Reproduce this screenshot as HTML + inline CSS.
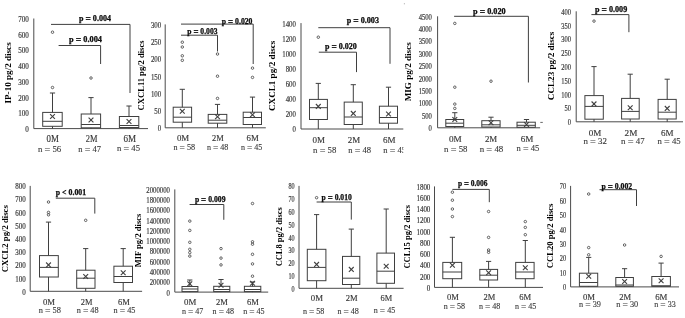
<!DOCTYPE html>
<html><head><meta charset="utf-8"><title>Box plots</title>
<style>
html,body{margin:0;padding:0;background:#fff;}
body{width:685px;height:318px;overflow:hidden;}
svg{display:block;font-family:"Liberation Serif","Times New Roman",serif;}
</style></head><body>
<svg width="685" height="318" viewBox="0 0 685 318" shape-rendering="auto">
<rect width="685" height="318" fill="#fff"/>
<g id="p1">
<line x1="33.8" y1="18.5" x2="33.8" y2="128.6" stroke="#4a4a4a" stroke-width="1.0"/>
<line x1="33.8" y1="128.6" x2="148" y2="128.6" stroke="#4a4a4a" stroke-width="1.0"/>
<text x="28.85" y="132" font-size="7.5" fill="#3a3a3a" text-anchor="end" textLength="3.55" lengthAdjust="spacingAndGlyphs" stroke="#3a3a3a" stroke-width="0.18">0</text>
<text x="28.85" y="116.27" font-size="7.5" fill="#3a3a3a" text-anchor="end" textLength="10.65" lengthAdjust="spacingAndGlyphs" stroke="#3a3a3a" stroke-width="0.18">100</text>
<text x="28.85" y="100.54" font-size="7.5" fill="#3a3a3a" text-anchor="end" textLength="10.65" lengthAdjust="spacingAndGlyphs" stroke="#3a3a3a" stroke-width="0.18">200</text>
<text x="28.85" y="84.81" font-size="7.5" fill="#3a3a3a" text-anchor="end" textLength="10.65" lengthAdjust="spacingAndGlyphs" stroke="#3a3a3a" stroke-width="0.18">300</text>
<text x="28.85" y="69.09" font-size="7.5" fill="#3a3a3a" text-anchor="end" textLength="10.65" lengthAdjust="spacingAndGlyphs" stroke="#3a3a3a" stroke-width="0.18">400</text>
<text x="28.85" y="53.36" font-size="7.5" fill="#3a3a3a" text-anchor="end" textLength="10.65" lengthAdjust="spacingAndGlyphs" stroke="#3a3a3a" stroke-width="0.18">500</text>
<text x="28.85" y="37.63" font-size="7.5" fill="#3a3a3a" text-anchor="end" textLength="10.65" lengthAdjust="spacingAndGlyphs" stroke="#3a3a3a" stroke-width="0.18">600</text>
<text x="28.85" y="21.9" font-size="7.5" fill="#3a3a3a" text-anchor="end" textLength="10.65" lengthAdjust="spacingAndGlyphs" stroke="#3a3a3a" stroke-width="0.18">700</text>
<line x1="52.5" y1="93" x2="52.5" y2="112.4" stroke="#3f3f3f" stroke-width="1.0"/>
<line x1="49.9" y1="93" x2="55.1" y2="93" stroke="#3f3f3f" stroke-width="1.0"/>
<line x1="52.5" y1="126.3" x2="52.5" y2="128.6" stroke="#3f3f3f" stroke-width="1.0"/>
<rect x="42.7" y="112.4" width="19.5" height="13.9" fill="none" stroke="#3f3f3f" stroke-width="1"/>
<line x1="42.7" y1="121.3" x2="62.2" y2="121.3" stroke="#3f3f3f" stroke-width="1.0"/>
<line x1="50.1" y1="114.1" x2="54.9" y2="118.9" stroke="#3f3f3f" stroke-width="1.1"/>
<line x1="50.1" y1="118.9" x2="54.9" y2="114.1" stroke="#3f3f3f" stroke-width="1.1"/>
<circle cx="52.5" cy="87.5" r="1.25" fill="none" stroke="#3f3f3f" stroke-width="0.8"/>
<circle cx="52.5" cy="32.2" r="1.25" fill="none" stroke="#3f3f3f" stroke-width="0.8"/>
<line x1="91" y1="97.6" x2="91" y2="114" stroke="#3f3f3f" stroke-width="1.0"/>
<line x1="88.4" y1="97.6" x2="93.6" y2="97.6" stroke="#3f3f3f" stroke-width="1.0"/>
<line x1="91" y1="127.8" x2="91" y2="128.6" stroke="#3f3f3f" stroke-width="1.0"/>
<rect x="81.2" y="114" width="19.4" height="13.8" fill="none" stroke="#3f3f3f" stroke-width="1"/>
<line x1="81.2" y1="124.5" x2="100.6" y2="124.5" stroke="#3f3f3f" stroke-width="1.0"/>
<line x1="88.6" y1="117.6" x2="93.4" y2="122.4" stroke="#3f3f3f" stroke-width="1.1"/>
<line x1="88.6" y1="122.4" x2="93.4" y2="117.6" stroke="#3f3f3f" stroke-width="1.1"/>
<circle cx="91" cy="78" r="1.25" fill="none" stroke="#3f3f3f" stroke-width="0.8"/>
<line x1="129" y1="106" x2="129" y2="116.5" stroke="#3f3f3f" stroke-width="1.0"/>
<line x1="126.4" y1="106" x2="131.6" y2="106" stroke="#3f3f3f" stroke-width="1.0"/>
<line x1="129" y1="127.5" x2="129" y2="128.6" stroke="#3f3f3f" stroke-width="1.0"/>
<rect x="119.4" y="116.5" width="19.4" height="11" fill="none" stroke="#3f3f3f" stroke-width="1"/>
<line x1="119.4" y1="125.5" x2="138.8" y2="125.5" stroke="#3f3f3f" stroke-width="1.0"/>
<line x1="126.6" y1="119.1" x2="131.4" y2="123.9" stroke="#3f3f3f" stroke-width="1.1"/>
<line x1="126.6" y1="123.9" x2="131.4" y2="119.1" stroke="#3f3f3f" stroke-width="1.1"/>
<text x="46.6" y="142.4" font-size="9.5" fill="#383838" textLength="12.3" lengthAdjust="spacingAndGlyphs" stroke="#383838" stroke-width="0.15">0M</text>
<text x="85.7" y="142.4" font-size="9.5" fill="#383838" textLength="11.7" lengthAdjust="spacingAndGlyphs" stroke="#383838" stroke-width="0.15">2M</text>
<text x="123.4" y="142" font-size="9.5" fill="#383838" textLength="12.6" lengthAdjust="spacingAndGlyphs" stroke="#383838" stroke-width="0.15">6M</text>
<text x="37.9" y="152" font-size="9" fill="#383838" textLength="23.3" lengthAdjust="spacingAndGlyphs" stroke="#383838" stroke-width="0.12">n <tspan font-size="10.5" baseline-shift="-0.9">=</tspan> 56</text>
<text x="78.2" y="152.2" font-size="9" fill="#383838" textLength="22.8" lengthAdjust="spacingAndGlyphs" stroke="#383838" stroke-width="0.12">n <tspan font-size="10.5" baseline-shift="-0.9">=</tspan> 47</text>
<text x="117.1" y="151.1" font-size="9" fill="#383838" textLength="22.9" lengthAdjust="spacingAndGlyphs" stroke="#383838" stroke-width="0.12">n <tspan font-size="10.5" baseline-shift="-0.9">=</tspan> 45</text>
<line x1="51" y1="24.4" x2="130" y2="24.4" stroke="#3f3f3f" stroke-width="1.0"/>
<line x1="130" y1="24.4" x2="130" y2="93" stroke="#3f3f3f" stroke-width="1.0"/>
<text x="79" y="21" font-size="8.2" fill="#111" font-weight="bold" textLength="32" lengthAdjust="spacingAndGlyphs" stroke="#000" stroke-width="0.25">p <tspan font-size="9.5" baseline-shift="-0.5">=</tspan> 0.004</text>
<line x1="58.6" y1="45.5" x2="100.6" y2="45.5" stroke="#3f3f3f" stroke-width="1.0"/>
<line x1="100.6" y1="45.5" x2="100.6" y2="64" stroke="#3f3f3f" stroke-width="1.0"/>
<text x="69" y="42" font-size="8.2" fill="#111" font-weight="bold" textLength="33" lengthAdjust="spacingAndGlyphs" stroke="#000" stroke-width="0.25">p <tspan font-size="9.5" baseline-shift="-0.5">=</tspan> 0.004</text>
<text transform="translate(11.1,72.9) rotate(-90)" x="0" y="0" font-size="9" font-weight="bold" fill="#000" text-anchor="middle" textLength="61.2" lengthAdjust="spacingAndGlyphs">IP-10 pg/2 discs</text>
</g>
<g id="p2">
<line x1="165.2" y1="24.4" x2="165.2" y2="127.8" stroke="#4a4a4a" stroke-width="1.0"/>
<line x1="165.2" y1="127.8" x2="265.8" y2="127.8" stroke="#4a4a4a" stroke-width="1.0"/>
<text x="161.15" y="131.2" font-size="7.5" fill="#3a3a3a" text-anchor="end" textLength="3.42" lengthAdjust="spacingAndGlyphs" stroke="#3a3a3a" stroke-width="0.18">0</text>
<text x="161.15" y="113.97" font-size="7.5" fill="#3a3a3a" text-anchor="end" textLength="6.84" lengthAdjust="spacingAndGlyphs" stroke="#3a3a3a" stroke-width="0.18">50</text>
<text x="161.15" y="96.73" font-size="7.5" fill="#3a3a3a" text-anchor="end" textLength="10.26" lengthAdjust="spacingAndGlyphs" stroke="#3a3a3a" stroke-width="0.18">100</text>
<text x="161.15" y="79.5" font-size="7.5" fill="#3a3a3a" text-anchor="end" textLength="10.26" lengthAdjust="spacingAndGlyphs" stroke="#3a3a3a" stroke-width="0.18">150</text>
<text x="161.15" y="62.27" font-size="7.5" fill="#3a3a3a" text-anchor="end" textLength="10.26" lengthAdjust="spacingAndGlyphs" stroke="#3a3a3a" stroke-width="0.18">200</text>
<text x="161.15" y="45.03" font-size="7.5" fill="#3a3a3a" text-anchor="end" textLength="10.26" lengthAdjust="spacingAndGlyphs" stroke="#3a3a3a" stroke-width="0.18">250</text>
<text x="161.15" y="27.8" font-size="7.5" fill="#3a3a3a" text-anchor="end" textLength="10.26" lengthAdjust="spacingAndGlyphs" stroke="#3a3a3a" stroke-width="0.18">300</text>
<line x1="182.3" y1="89.3" x2="182.3" y2="107.2" stroke="#3f3f3f" stroke-width="1.0"/>
<line x1="179.7" y1="89.3" x2="184.9" y2="89.3" stroke="#3f3f3f" stroke-width="1.0"/>
<line x1="182.3" y1="122.2" x2="182.3" y2="127.8" stroke="#3f3f3f" stroke-width="1.0"/>
<rect x="173.2" y="107.2" width="18.4" height="15" fill="none" stroke="#3f3f3f" stroke-width="1"/>
<line x1="173.2" y1="117.2" x2="191.6" y2="117.2" stroke="#3f3f3f" stroke-width="1.0"/>
<line x1="179.9" y1="108.8" x2="184.7" y2="113.6" stroke="#3f3f3f" stroke-width="1.1"/>
<line x1="179.9" y1="113.6" x2="184.7" y2="108.8" stroke="#3f3f3f" stroke-width="1.1"/>
<circle cx="182.3" cy="42.2" r="1.25" fill="none" stroke="#3f3f3f" stroke-width="0.8"/>
<circle cx="182.3" cy="47" r="1.25" fill="none" stroke="#3f3f3f" stroke-width="0.8"/>
<circle cx="182.3" cy="55.8" r="1.25" fill="none" stroke="#3f3f3f" stroke-width="0.8"/>
<circle cx="182.3" cy="60.3" r="1.25" fill="none" stroke="#3f3f3f" stroke-width="0.8"/>
<line x1="217.5" y1="104.4" x2="217.5" y2="114.4" stroke="#3f3f3f" stroke-width="1.0"/>
<line x1="214.9" y1="104.4" x2="220.1" y2="104.4" stroke="#3f3f3f" stroke-width="1.0"/>
<line x1="217.5" y1="123.2" x2="217.5" y2="127.8" stroke="#3f3f3f" stroke-width="1.0"/>
<rect x="208.2" y="114.4" width="18.6" height="8.8" fill="none" stroke="#3f3f3f" stroke-width="1"/>
<line x1="208.2" y1="120.2" x2="226.8" y2="120.2" stroke="#3f3f3f" stroke-width="1.0"/>
<line x1="215.1" y1="114.3" x2="219.9" y2="119.1" stroke="#3f3f3f" stroke-width="1.1"/>
<line x1="215.1" y1="119.1" x2="219.9" y2="114.3" stroke="#3f3f3f" stroke-width="1.1"/>
<circle cx="217.5" cy="54" r="1.25" fill="none" stroke="#3f3f3f" stroke-width="0.8"/>
<circle cx="217.5" cy="76.2" r="1.25" fill="none" stroke="#3f3f3f" stroke-width="0.8"/>
<circle cx="217.5" cy="98.4" r="1.25" fill="none" stroke="#3f3f3f" stroke-width="0.8"/>
<line x1="252.5" y1="97.1" x2="252.5" y2="112.2" stroke="#3f3f3f" stroke-width="1.0"/>
<line x1="249.9" y1="97.1" x2="255.1" y2="97.1" stroke="#3f3f3f" stroke-width="1.0"/>
<line x1="252.5" y1="124.5" x2="252.5" y2="127.8" stroke="#3f3f3f" stroke-width="1.0"/>
<rect x="243.2" y="112.2" width="18.3" height="12.3" fill="none" stroke="#3f3f3f" stroke-width="1"/>
<line x1="243.2" y1="117.5" x2="261.5" y2="117.5" stroke="#3f3f3f" stroke-width="1.0"/>
<line x1="250.1" y1="112.3" x2="254.9" y2="117.1" stroke="#3f3f3f" stroke-width="1.1"/>
<line x1="250.1" y1="117.1" x2="254.9" y2="112.3" stroke="#3f3f3f" stroke-width="1.1"/>
<circle cx="252.5" cy="68.1" r="1.25" fill="none" stroke="#3f3f3f" stroke-width="0.8"/>
<circle cx="252.5" cy="77.4" r="1.25" fill="none" stroke="#3f3f3f" stroke-width="0.8"/>
<text x="176.9" y="140.6" font-size="9.2" fill="#383838" textLength="12.3" lengthAdjust="spacingAndGlyphs" stroke="#383838" stroke-width="0.15">0M</text>
<text x="212" y="140.6" font-size="9.2" fill="#383838" textLength="11.7" lengthAdjust="spacingAndGlyphs" stroke="#383838" stroke-width="0.15">2M</text>
<text x="246.5" y="140.6" font-size="9.2" fill="#383838" textLength="12.2" lengthAdjust="spacingAndGlyphs" stroke="#383838" stroke-width="0.15">6M</text>
<text x="173.4" y="149.9" font-size="9" fill="#383838" textLength="21.7" lengthAdjust="spacingAndGlyphs" stroke="#383838" stroke-width="0.12">n <tspan font-size="10.5" baseline-shift="-0.9">=</tspan> 58</text>
<text x="207" y="149.9" font-size="9" fill="#383838" textLength="21.4" lengthAdjust="spacingAndGlyphs" stroke="#383838" stroke-width="0.12">n <tspan font-size="10.5" baseline-shift="-0.9">=</tspan> 48</text>
<text x="240.9" y="149.9" font-size="9" fill="#383838" textLength="21.3" lengthAdjust="spacingAndGlyphs" stroke="#383838" stroke-width="0.12">n <tspan font-size="10.5" baseline-shift="-0.9">=</tspan> 45</text>
<line x1="181" y1="24.1" x2="253.2" y2="24.1" stroke="#3f3f3f" stroke-width="1.0"/>
<line x1="253.2" y1="24.1" x2="253.2" y2="64" stroke="#3f3f3f" stroke-width="1.0"/>
<text x="221.8" y="23.7" font-size="8.2" fill="#111" font-weight="bold" textLength="30.7" lengthAdjust="spacingAndGlyphs" stroke="#000" stroke-width="0.25">p <tspan font-size="9.5" baseline-shift="-0.5">=</tspan> 0.020</text>
<line x1="181" y1="35.2" x2="217.5" y2="35.2" stroke="#3f3f3f" stroke-width="1.0"/>
<line x1="217.5" y1="35.2" x2="217.5" y2="51.5" stroke="#3f3f3f" stroke-width="1.0"/>
<text x="187.3" y="33.5" font-size="8.2" fill="#111" font-weight="bold" textLength="30.2" lengthAdjust="spacingAndGlyphs" stroke="#000" stroke-width="0.25">p <tspan font-size="9.5" baseline-shift="-0.5">=</tspan> 0.003</text>
<text transform="translate(144.2,75.4) rotate(-90)" x="0" y="0" font-size="9" font-weight="bold" fill="#000" text-anchor="middle" textLength="70" lengthAdjust="spacingAndGlyphs">CXCL11 pg/2 discs</text>
</g>
<g id="p3">
<line x1="301" y1="23.1" x2="301" y2="129" stroke="#4a4a4a" stroke-width="1.0"/>
<line x1="301" y1="129" x2="403.3" y2="129" stroke="#4a4a4a" stroke-width="1.0"/>
<text x="295.85" y="132.4" font-size="7.5" fill="#3a3a3a" text-anchor="end" textLength="3.4" lengthAdjust="spacingAndGlyphs" stroke="#3a3a3a" stroke-width="0.18">0</text>
<text x="295.85" y="117.27" font-size="7.5" fill="#3a3a3a" text-anchor="end" textLength="10.2" lengthAdjust="spacingAndGlyphs" stroke="#3a3a3a" stroke-width="0.18">200</text>
<text x="295.85" y="102.14" font-size="7.5" fill="#3a3a3a" text-anchor="end" textLength="10.2" lengthAdjust="spacingAndGlyphs" stroke="#3a3a3a" stroke-width="0.18">400</text>
<text x="295.85" y="87.01" font-size="7.5" fill="#3a3a3a" text-anchor="end" textLength="10.2" lengthAdjust="spacingAndGlyphs" stroke="#3a3a3a" stroke-width="0.18">600</text>
<text x="295.85" y="71.89" font-size="7.5" fill="#3a3a3a" text-anchor="end" textLength="10.2" lengthAdjust="spacingAndGlyphs" stroke="#3a3a3a" stroke-width="0.18">800</text>
<text x="295.85" y="56.76" font-size="7.5" fill="#3a3a3a" text-anchor="end" textLength="13.6" lengthAdjust="spacingAndGlyphs" stroke="#3a3a3a" stroke-width="0.18">1000</text>
<text x="295.85" y="41.63" font-size="7.5" fill="#3a3a3a" text-anchor="end" textLength="13.6" lengthAdjust="spacingAndGlyphs" stroke="#3a3a3a" stroke-width="0.18">1200</text>
<text x="295.85" y="26.5" font-size="7.5" fill="#3a3a3a" text-anchor="end" textLength="13.6" lengthAdjust="spacingAndGlyphs" stroke="#3a3a3a" stroke-width="0.18">1400</text>
<line x1="318.3" y1="83.4" x2="318.3" y2="99.4" stroke="#3f3f3f" stroke-width="1.0"/>
<line x1="315.7" y1="83.4" x2="320.9" y2="83.4" stroke="#3f3f3f" stroke-width="1.0"/>
<line x1="318.3" y1="119.5" x2="318.3" y2="129" stroke="#3f3f3f" stroke-width="1.0"/>
<rect x="309.5" y="99.4" width="17.9" height="20.1" fill="none" stroke="#3f3f3f" stroke-width="1"/>
<line x1="309.5" y1="107.7" x2="327.4" y2="107.7" stroke="#3f3f3f" stroke-width="1.0"/>
<line x1="315.9" y1="104" x2="320.7" y2="108.8" stroke="#3f3f3f" stroke-width="1.1"/>
<line x1="315.9" y1="108.8" x2="320.7" y2="104" stroke="#3f3f3f" stroke-width="1.1"/>
<circle cx="318.3" cy="37.2" r="1.25" fill="none" stroke="#3f3f3f" stroke-width="0.8"/>
<line x1="353.3" y1="84.7" x2="353.3" y2="102.1" stroke="#3f3f3f" stroke-width="1.0"/>
<line x1="350.7" y1="84.7" x2="355.9" y2="84.7" stroke="#3f3f3f" stroke-width="1.0"/>
<line x1="353.3" y1="124.5" x2="353.3" y2="129" stroke="#3f3f3f" stroke-width="1.0"/>
<rect x="344.2" y="102.1" width="18.1" height="22.4" fill="none" stroke="#3f3f3f" stroke-width="1"/>
<line x1="344.2" y1="117" x2="362.3" y2="117" stroke="#3f3f3f" stroke-width="1.0"/>
<line x1="350.9" y1="111" x2="355.7" y2="115.8" stroke="#3f3f3f" stroke-width="1.1"/>
<line x1="350.9" y1="115.8" x2="355.7" y2="111" stroke="#3f3f3f" stroke-width="1.1"/>
<line x1="388.5" y1="87.2" x2="388.5" y2="106.2" stroke="#3f3f3f" stroke-width="1.0"/>
<line x1="385.9" y1="87.2" x2="391.1" y2="87.2" stroke="#3f3f3f" stroke-width="1.0"/>
<line x1="388.5" y1="123.2" x2="388.5" y2="129" stroke="#3f3f3f" stroke-width="1.0"/>
<rect x="379.4" y="106.2" width="18.1" height="17" fill="none" stroke="#3f3f3f" stroke-width="1"/>
<line x1="379.4" y1="117.5" x2="397.5" y2="117.5" stroke="#3f3f3f" stroke-width="1.0"/>
<line x1="386.1" y1="111.6" x2="390.9" y2="116.4" stroke="#3f3f3f" stroke-width="1.1"/>
<line x1="386.1" y1="116.4" x2="390.9" y2="111.6" stroke="#3f3f3f" stroke-width="1.1"/>
<text x="312.6" y="142.9" font-size="9.2" fill="#383838" textLength="12.5" lengthAdjust="spacingAndGlyphs" stroke="#383838" stroke-width="0.15">0M</text>
<text x="347.7" y="142.9" font-size="9.2" fill="#383838" textLength="12.4" lengthAdjust="spacingAndGlyphs" stroke="#383838" stroke-width="0.15">2M</text>
<text x="382.9" y="142.9" font-size="9.2" fill="#383838" textLength="12.6" lengthAdjust="spacingAndGlyphs" stroke="#383838" stroke-width="0.15">6M</text>
<text x="313.1" y="152.9" font-size="9" fill="#383838" textLength="23.2" lengthAdjust="spacingAndGlyphs" stroke="#383838" stroke-width="0.12">n <tspan font-size="10.5" baseline-shift="-0.9">=</tspan> 58</text>
<text x="348.2" y="152.9" font-size="9" fill="#383838" textLength="22.8" lengthAdjust="spacingAndGlyphs" stroke="#383838" stroke-width="0.12">n <tspan font-size="10.5" baseline-shift="-0.9">=</tspan> 48</text>
<text x="383.2" y="152.9" font-size="9" fill="#383838" textLength="22.8" lengthAdjust="spacingAndGlyphs" stroke="#383838" stroke-width="0.12">n <tspan font-size="10.5" baseline-shift="-0.9">=</tspan> 45</text>
<line x1="318.3" y1="27.7" x2="390" y2="27.7" stroke="#3f3f3f" stroke-width="1.0"/>
<line x1="390" y1="27.7" x2="390" y2="63.8" stroke="#3f3f3f" stroke-width="1.0"/>
<text x="346.7" y="22.6" font-size="8.2" fill="#111" font-weight="bold" textLength="32.3" lengthAdjust="spacingAndGlyphs" stroke="#000" stroke-width="0.25">p <tspan font-size="9.5" baseline-shift="-0.5">=</tspan> 0.003</text>
<line x1="318.8" y1="52.2" x2="356.5" y2="52.2" stroke="#3f3f3f" stroke-width="1.0"/>
<line x1="356.5" y1="52.2" x2="356.5" y2="72.1" stroke="#3f3f3f" stroke-width="1.0"/>
<text x="325" y="49" font-size="8.2" fill="#111" font-weight="bold" textLength="31.8" lengthAdjust="spacingAndGlyphs" stroke="#000" stroke-width="0.25">p <tspan font-size="9.5" baseline-shift="-0.5">=</tspan> 0.020</text>
<text transform="translate(275.2,75.85) rotate(-90)" x="0" y="0" font-size="9" font-weight="bold" fill="#000" text-anchor="middle" textLength="70.3" lengthAdjust="spacingAndGlyphs">CXCL1 pg/2 discs</text>
</g>
<rect x="403.3" y="144" width="6" height="12" fill="#fff"/>
<g id="p4">
<line x1="437.6" y1="16.3" x2="437.6" y2="127.8" stroke="#4a4a4a" stroke-width="1.0"/>
<line x1="437.6" y1="127.8" x2="540.1" y2="127.8" stroke="#4a4a4a" stroke-width="1.0"/>
<text x="431.95" y="131.2" font-size="7.5" fill="#3a3a3a" text-anchor="end" textLength="3.33" lengthAdjust="spacingAndGlyphs" stroke="#3a3a3a" stroke-width="0.18">0</text>
<text x="431.95" y="118.81" font-size="7.5" fill="#3a3a3a" text-anchor="end" textLength="9.99" lengthAdjust="spacingAndGlyphs" stroke="#3a3a3a" stroke-width="0.18">500</text>
<text x="431.95" y="106.42" font-size="7.5" fill="#3a3a3a" text-anchor="end" textLength="13.32" lengthAdjust="spacingAndGlyphs" stroke="#3a3a3a" stroke-width="0.18">1000</text>
<text x="431.95" y="94.03" font-size="7.5" fill="#3a3a3a" text-anchor="end" textLength="13.32" lengthAdjust="spacingAndGlyphs" stroke="#3a3a3a" stroke-width="0.18">1500</text>
<text x="431.95" y="81.64" font-size="7.5" fill="#3a3a3a" text-anchor="end" textLength="13.32" lengthAdjust="spacingAndGlyphs" stroke="#3a3a3a" stroke-width="0.18">2000</text>
<text x="431.95" y="69.26" font-size="7.5" fill="#3a3a3a" text-anchor="end" textLength="13.32" lengthAdjust="spacingAndGlyphs" stroke="#3a3a3a" stroke-width="0.18">2500</text>
<text x="431.95" y="56.87" font-size="7.5" fill="#3a3a3a" text-anchor="end" textLength="13.32" lengthAdjust="spacingAndGlyphs" stroke="#3a3a3a" stroke-width="0.18">3000</text>
<text x="431.95" y="44.48" font-size="7.5" fill="#3a3a3a" text-anchor="end" textLength="13.32" lengthAdjust="spacingAndGlyphs" stroke="#3a3a3a" stroke-width="0.18">3500</text>
<text x="431.95" y="32.09" font-size="7.5" fill="#3a3a3a" text-anchor="end" textLength="13.32" lengthAdjust="spacingAndGlyphs" stroke="#3a3a3a" stroke-width="0.18">4000</text>
<text x="431.95" y="19.7" font-size="7.5" fill="#3a3a3a" text-anchor="end" textLength="13.32" lengthAdjust="spacingAndGlyphs" stroke="#3a3a3a" stroke-width="0.18">4500</text>
<line x1="454.8" y1="112.7" x2="454.8" y2="119.5" stroke="#3f3f3f" stroke-width="1.0"/>
<line x1="452.2" y1="112.7" x2="457.4" y2="112.7" stroke="#3f3f3f" stroke-width="1.0"/>
<line x1="454.8" y1="126.5" x2="454.8" y2="127.8" stroke="#3f3f3f" stroke-width="1.0"/>
<rect x="445.8" y="119.5" width="17.9" height="7" fill="none" stroke="#3f3f3f" stroke-width="1"/>
<line x1="445.8" y1="123.2" x2="463.7" y2="123.2" stroke="#3f3f3f" stroke-width="1.0"/>
<line x1="452.4" y1="117.1" x2="457.2" y2="121.9" stroke="#3f3f3f" stroke-width="1.1"/>
<line x1="452.4" y1="121.9" x2="457.2" y2="117.1" stroke="#3f3f3f" stroke-width="1.1"/>
<circle cx="454.8" cy="23.4" r="1.25" fill="none" stroke="#3f3f3f" stroke-width="0.8"/>
<circle cx="454.8" cy="87.2" r="1.25" fill="none" stroke="#3f3f3f" stroke-width="0.8"/>
<circle cx="454.8" cy="104.1" r="1.25" fill="none" stroke="#3f3f3f" stroke-width="0.8"/>
<circle cx="454.8" cy="108.4" r="1.25" fill="none" stroke="#3f3f3f" stroke-width="0.8"/>
<line x1="491" y1="117.2" x2="491" y2="120.7" stroke="#3f3f3f" stroke-width="1.0"/>
<line x1="488.4" y1="117.2" x2="493.6" y2="117.2" stroke="#3f3f3f" stroke-width="1.0"/>
<line x1="491" y1="127" x2="491" y2="127.8" stroke="#3f3f3f" stroke-width="1.0"/>
<rect x="481.8" y="120.7" width="18.3" height="6.3" fill="none" stroke="#3f3f3f" stroke-width="1"/>
<line x1="481.8" y1="124.8" x2="500.1" y2="124.8" stroke="#3f3f3f" stroke-width="1.0"/>
<line x1="488.6" y1="120.3" x2="493.4" y2="125.1" stroke="#3f3f3f" stroke-width="1.1"/>
<line x1="488.6" y1="125.1" x2="493.4" y2="120.3" stroke="#3f3f3f" stroke-width="1.1"/>
<circle cx="491" cy="81.2" r="1.25" fill="none" stroke="#3f3f3f" stroke-width="0.8"/>
<line x1="526.5" y1="119.5" x2="526.5" y2="122.2" stroke="#3f3f3f" stroke-width="1.0"/>
<line x1="523.9" y1="119.5" x2="529.1" y2="119.5" stroke="#3f3f3f" stroke-width="1.0"/>
<line x1="526.5" y1="127.3" x2="526.5" y2="127.8" stroke="#3f3f3f" stroke-width="1.0"/>
<rect x="517" y="122.2" width="18.3" height="5.1" fill="none" stroke="#3f3f3f" stroke-width="1"/>
<line x1="517" y1="125.3" x2="535.3" y2="125.3" stroke="#3f3f3f" stroke-width="1.0"/>
<line x1="524.1" y1="122.1" x2="528.9" y2="126.9" stroke="#3f3f3f" stroke-width="1.1"/>
<line x1="524.1" y1="126.9" x2="528.9" y2="122.1" stroke="#3f3f3f" stroke-width="1.1"/>
<text x="449" y="142" font-size="9.2" fill="#383838" textLength="12.8" lengthAdjust="spacingAndGlyphs" stroke="#383838" stroke-width="0.15">0M</text>
<text x="484.9" y="142" font-size="9.2" fill="#383838" textLength="12.3" lengthAdjust="spacingAndGlyphs" stroke="#383838" stroke-width="0.15">2M</text>
<text x="520.8" y="141.7" font-size="9.2" fill="#383838" textLength="12.7" lengthAdjust="spacingAndGlyphs" stroke="#383838" stroke-width="0.15">6M</text>
<text x="444.1" y="152" font-size="9" fill="#383838" textLength="23.3" lengthAdjust="spacingAndGlyphs" stroke="#383838" stroke-width="0.12">n <tspan font-size="10.5" baseline-shift="-0.9">=</tspan> 58</text>
<text x="479.7" y="152" font-size="9" fill="#383838" textLength="23.6" lengthAdjust="spacingAndGlyphs" stroke="#383838" stroke-width="0.12">n <tspan font-size="10.5" baseline-shift="-0.9">=</tspan> 48</text>
<text x="516.5" y="151.1" font-size="9" fill="#383838" textLength="22.7" lengthAdjust="spacingAndGlyphs" stroke="#383838" stroke-width="0.12">n <tspan font-size="10.5" baseline-shift="-0.9">=</tspan> 45</text>
<line x1="454.1" y1="16.3" x2="528.4" y2="16.3" stroke="#3f3f3f" stroke-width="1.0"/>
<line x1="528.4" y1="16.3" x2="528.4" y2="82.5" stroke="#3f3f3f" stroke-width="1.0"/>
<text x="473" y="13.5" font-size="8.2" fill="#111" font-weight="bold" textLength="32.7" lengthAdjust="spacingAndGlyphs" stroke="#000" stroke-width="0.25">p <tspan font-size="9.5" baseline-shift="-0.5">=</tspan> 0.020</text>
<text transform="translate(411.3,71.8) rotate(-90)" x="0" y="0" font-size="9" font-weight="bold" fill="#000" text-anchor="middle" textLength="59" lengthAdjust="spacingAndGlyphs">MIG pg/2 discs</text>
</g>
<g id="p5">
<line x1="576.2" y1="11.3" x2="576.2" y2="121.8" stroke="#4a4a4a" stroke-width="1.0"/>
<line x1="576.2" y1="121.8" x2="683" y2="121.8" stroke="#4a4a4a" stroke-width="1.0"/>
<text x="571.05" y="125.2" font-size="7.5" fill="#3a3a3a" text-anchor="end" textLength="3.25" lengthAdjust="spacingAndGlyphs" stroke="#3a3a3a" stroke-width="0.18">0</text>
<text x="571.05" y="111.39" font-size="7.5" fill="#3a3a3a" text-anchor="end" textLength="6.5" lengthAdjust="spacingAndGlyphs" stroke="#3a3a3a" stroke-width="0.18">50</text>
<text x="571.05" y="97.58" font-size="7.5" fill="#3a3a3a" text-anchor="end" textLength="9.75" lengthAdjust="spacingAndGlyphs" stroke="#3a3a3a" stroke-width="0.18">100</text>
<text x="571.05" y="83.76" font-size="7.5" fill="#3a3a3a" text-anchor="end" textLength="9.75" lengthAdjust="spacingAndGlyphs" stroke="#3a3a3a" stroke-width="0.18">150</text>
<text x="571.05" y="69.95" font-size="7.5" fill="#3a3a3a" text-anchor="end" textLength="9.75" lengthAdjust="spacingAndGlyphs" stroke="#3a3a3a" stroke-width="0.18">200</text>
<text x="571.05" y="56.14" font-size="7.5" fill="#3a3a3a" text-anchor="end" textLength="9.75" lengthAdjust="spacingAndGlyphs" stroke="#3a3a3a" stroke-width="0.18">250</text>
<text x="571.05" y="42.32" font-size="7.5" fill="#3a3a3a" text-anchor="end" textLength="9.75" lengthAdjust="spacingAndGlyphs" stroke="#3a3a3a" stroke-width="0.18">300</text>
<text x="571.05" y="28.51" font-size="7.5" fill="#3a3a3a" text-anchor="end" textLength="9.75" lengthAdjust="spacingAndGlyphs" stroke="#3a3a3a" stroke-width="0.18">350</text>
<text x="571.05" y="14.7" font-size="7.5" fill="#3a3a3a" text-anchor="end" textLength="9.75" lengthAdjust="spacingAndGlyphs" stroke="#3a3a3a" stroke-width="0.18">400</text>
<line x1="594" y1="66.6" x2="594" y2="95.6" stroke="#3f3f3f" stroke-width="1.0"/>
<line x1="591.4" y1="66.6" x2="596.6" y2="66.6" stroke="#3f3f3f" stroke-width="1.0"/>
<line x1="594" y1="119.2" x2="594" y2="121.8" stroke="#3f3f3f" stroke-width="1.0"/>
<rect x="584.9" y="95.6" width="18.4" height="23.6" fill="none" stroke="#3f3f3f" stroke-width="1"/>
<line x1="584.9" y1="106.4" x2="603.3" y2="106.4" stroke="#3f3f3f" stroke-width="1.0"/>
<line x1="591.6" y1="101.5" x2="596.4" y2="106.3" stroke="#3f3f3f" stroke-width="1.1"/>
<line x1="591.6" y1="106.3" x2="596.4" y2="101.5" stroke="#3f3f3f" stroke-width="1.1"/>
<circle cx="594" cy="21.1" r="1.25" fill="none" stroke="#3f3f3f" stroke-width="0.8"/>
<line x1="630.2" y1="74.2" x2="630.2" y2="98.4" stroke="#3f3f3f" stroke-width="1.0"/>
<line x1="627.6" y1="74.2" x2="632.8" y2="74.2" stroke="#3f3f3f" stroke-width="1.0"/>
<line x1="630.2" y1="119" x2="630.2" y2="121.8" stroke="#3f3f3f" stroke-width="1.0"/>
<rect x="621.6" y="98.4" width="17.6" height="20.6" fill="none" stroke="#3f3f3f" stroke-width="1"/>
<line x1="621.6" y1="111.4" x2="639.2" y2="111.4" stroke="#3f3f3f" stroke-width="1.0"/>
<line x1="627.8" y1="105.3" x2="632.6" y2="110.1" stroke="#3f3f3f" stroke-width="1.1"/>
<line x1="627.8" y1="110.1" x2="632.6" y2="105.3" stroke="#3f3f3f" stroke-width="1.1"/>
<line x1="667.2" y1="79.2" x2="667.2" y2="99.4" stroke="#3f3f3f" stroke-width="1.0"/>
<line x1="664.6" y1="79.2" x2="669.8" y2="79.2" stroke="#3f3f3f" stroke-width="1.0"/>
<line x1="667.2" y1="119" x2="667.2" y2="121.8" stroke="#3f3f3f" stroke-width="1.0"/>
<rect x="658.1" y="99.4" width="18.1" height="19.6" fill="none" stroke="#3f3f3f" stroke-width="1"/>
<line x1="658.1" y1="112.2" x2="676.2" y2="112.2" stroke="#3f3f3f" stroke-width="1.0"/>
<line x1="664.8" y1="106" x2="669.6" y2="110.8" stroke="#3f3f3f" stroke-width="1.1"/>
<line x1="664.8" y1="110.8" x2="669.6" y2="106" stroke="#3f3f3f" stroke-width="1.1"/>
<text x="588.7" y="135.5" font-size="9.2" fill="#383838" textLength="12.6" lengthAdjust="spacingAndGlyphs" stroke="#383838" stroke-width="0.15">0M</text>
<text x="624.6" y="135.5" font-size="9.2" fill="#383838" textLength="12.8" lengthAdjust="spacingAndGlyphs" stroke="#383838" stroke-width="0.15">2M</text>
<text x="661" y="135.5" font-size="9.2" fill="#383838" textLength="12.6" lengthAdjust="spacingAndGlyphs" stroke="#383838" stroke-width="0.15">6M</text>
<text x="583.4" y="144.3" font-size="9" fill="#383838" textLength="23.6" lengthAdjust="spacingAndGlyphs" stroke="#383838" stroke-width="0.12">n <tspan font-size="10.5" baseline-shift="-0.9">=</tspan> 32</text>
<text x="621.1" y="144.3" font-size="9" fill="#383838" textLength="23.6" lengthAdjust="spacingAndGlyphs" stroke="#383838" stroke-width="0.12">n <tspan font-size="10.5" baseline-shift="-0.9">=</tspan> 47</text>
<text x="657.5" y="143.9" font-size="9" fill="#383838" textLength="23.1" lengthAdjust="spacingAndGlyphs" stroke="#383838" stroke-width="0.12">n <tspan font-size="10.5" baseline-shift="-0.9">=</tspan> 45</text>
<line x1="591.4" y1="14.6" x2="628.9" y2="14.6" stroke="#3f3f3f" stroke-width="1.0"/>
<line x1="628.9" y1="14.6" x2="628.9" y2="32.2" stroke="#3f3f3f" stroke-width="1.0"/>
<text x="595" y="12.2" font-size="8.2" fill="#111" font-weight="bold" textLength="32.2" lengthAdjust="spacingAndGlyphs" stroke="#000" stroke-width="0.25">p <tspan font-size="9.5" baseline-shift="-0.5">=</tspan> 0.009</text>
<text transform="translate(553.8,65.95) rotate(-90)" x="0" y="0" font-size="9" font-weight="bold" fill="#000" text-anchor="middle" textLength="68.5" lengthAdjust="spacingAndGlyphs">CCL23 pg/2 discs</text>
</g>
<g id="p6">
<line x1="30.2" y1="185.9" x2="30.2" y2="291.3" stroke="#4a4a4a" stroke-width="1.0"/>
<line x1="30.2" y1="291.3" x2="142.1" y2="291.3" stroke="#4a4a4a" stroke-width="1.0"/>
<text x="25.65" y="294.7" font-size="7.5" fill="#3a3a3a" text-anchor="end" textLength="3.48" lengthAdjust="spacingAndGlyphs" stroke="#3a3a3a" stroke-width="0.18">0</text>
<text x="25.65" y="281.52" font-size="7.5" fill="#3a3a3a" text-anchor="end" textLength="10.44" lengthAdjust="spacingAndGlyphs" stroke="#3a3a3a" stroke-width="0.18">100</text>
<text x="25.65" y="268.35" font-size="7.5" fill="#3a3a3a" text-anchor="end" textLength="10.44" lengthAdjust="spacingAndGlyphs" stroke="#3a3a3a" stroke-width="0.18">200</text>
<text x="25.65" y="255.18" font-size="7.5" fill="#3a3a3a" text-anchor="end" textLength="10.44" lengthAdjust="spacingAndGlyphs" stroke="#3a3a3a" stroke-width="0.18">300</text>
<text x="25.65" y="242" font-size="7.5" fill="#3a3a3a" text-anchor="end" textLength="10.44" lengthAdjust="spacingAndGlyphs" stroke="#3a3a3a" stroke-width="0.18">400</text>
<text x="25.65" y="228.83" font-size="7.5" fill="#3a3a3a" text-anchor="end" textLength="10.44" lengthAdjust="spacingAndGlyphs" stroke="#3a3a3a" stroke-width="0.18">500</text>
<text x="25.65" y="215.65" font-size="7.5" fill="#3a3a3a" text-anchor="end" textLength="10.44" lengthAdjust="spacingAndGlyphs" stroke="#3a3a3a" stroke-width="0.18">600</text>
<text x="25.65" y="202.47" font-size="7.5" fill="#3a3a3a" text-anchor="end" textLength="10.44" lengthAdjust="spacingAndGlyphs" stroke="#3a3a3a" stroke-width="0.18">700</text>
<text x="25.65" y="189.3" font-size="7.5" fill="#3a3a3a" text-anchor="end" textLength="10.44" lengthAdjust="spacingAndGlyphs" stroke="#3a3a3a" stroke-width="0.18">800</text>
<line x1="48.5" y1="222.1" x2="48.5" y2="255.6" stroke="#3f3f3f" stroke-width="1.0"/>
<line x1="45.9" y1="222.1" x2="51.1" y2="222.1" stroke="#3f3f3f" stroke-width="1.0"/>
<line x1="48.5" y1="277" x2="48.5" y2="291.3" stroke="#3f3f3f" stroke-width="1.0"/>
<rect x="39.5" y="255.6" width="18.8" height="21.4" fill="none" stroke="#3f3f3f" stroke-width="1"/>
<line x1="39.5" y1="267.4" x2="58.3" y2="267.4" stroke="#3f3f3f" stroke-width="1.0"/>
<line x1="46.1" y1="262.5" x2="50.9" y2="267.3" stroke="#3f3f3f" stroke-width="1.1"/>
<line x1="46.1" y1="267.3" x2="50.9" y2="262.5" stroke="#3f3f3f" stroke-width="1.1"/>
<circle cx="48.5" cy="202" r="1.25" fill="none" stroke="#3f3f3f" stroke-width="0.8"/>
<circle cx="48.5" cy="212.4" r="1.25" fill="none" stroke="#3f3f3f" stroke-width="0.8"/>
<circle cx="48.5" cy="214.8" r="1.25" fill="none" stroke="#3f3f3f" stroke-width="0.8"/>
<line x1="85.7" y1="248.6" x2="85.7" y2="270.2" stroke="#3f3f3f" stroke-width="1.0"/>
<line x1="83.1" y1="248.6" x2="88.3" y2="248.6" stroke="#3f3f3f" stroke-width="1.0"/>
<line x1="85.7" y1="288.3" x2="85.7" y2="291.3" stroke="#3f3f3f" stroke-width="1.0"/>
<rect x="76.7" y="270.2" width="18.3" height="18.1" fill="none" stroke="#3f3f3f" stroke-width="1"/>
<line x1="76.7" y1="278.2" x2="95" y2="278.2" stroke="#3f3f3f" stroke-width="1.0"/>
<line x1="83.3" y1="274.1" x2="88.1" y2="278.9" stroke="#3f3f3f" stroke-width="1.1"/>
<line x1="83.3" y1="278.9" x2="88.1" y2="274.1" stroke="#3f3f3f" stroke-width="1.1"/>
<circle cx="85.7" cy="220.3" r="1.25" fill="none" stroke="#3f3f3f" stroke-width="0.8"/>
<line x1="123.2" y1="248.6" x2="123.2" y2="266.2" stroke="#3f3f3f" stroke-width="1.0"/>
<line x1="120.6" y1="248.6" x2="125.8" y2="248.6" stroke="#3f3f3f" stroke-width="1.0"/>
<line x1="123.2" y1="282.5" x2="123.2" y2="291.3" stroke="#3f3f3f" stroke-width="1.0"/>
<rect x="113.9" y="266.2" width="18.6" height="16.3" fill="none" stroke="#3f3f3f" stroke-width="1"/>
<line x1="113.9" y1="276.5" x2="132.5" y2="276.5" stroke="#3f3f3f" stroke-width="1.0"/>
<line x1="120.8" y1="270.3" x2="125.6" y2="275.1" stroke="#3f3f3f" stroke-width="1.1"/>
<line x1="120.8" y1="275.1" x2="125.6" y2="270.3" stroke="#3f3f3f" stroke-width="1.1"/>
<text x="43" y="304.6" font-size="9.2" fill="#383838" textLength="12.1" lengthAdjust="spacingAndGlyphs" stroke="#383838" stroke-width="0.15">0M</text>
<text x="80.7" y="305" font-size="9.2" fill="#383838" textLength="11.7" lengthAdjust="spacingAndGlyphs" stroke="#383838" stroke-width="0.15">2M</text>
<text x="117.9" y="305" font-size="9.2" fill="#383838" textLength="11.9" lengthAdjust="spacingAndGlyphs" stroke="#383838" stroke-width="0.15">6M</text>
<text x="38.7" y="312.5" font-size="9" fill="#383838" textLength="22.2" lengthAdjust="spacingAndGlyphs" stroke="#383838" stroke-width="0.12">n <tspan font-size="10.5" baseline-shift="-0.9">=</tspan> 58</text>
<text x="76.7" y="313.4" font-size="9" fill="#383838" textLength="21.9" lengthAdjust="spacingAndGlyphs" stroke="#383838" stroke-width="0.12">n <tspan font-size="10.5" baseline-shift="-0.9">=</tspan> 48</text>
<text x="113.5" y="313.4" font-size="9" fill="#383838" textLength="21.9" lengthAdjust="spacingAndGlyphs" stroke="#383838" stroke-width="0.12">n <tspan font-size="10.5" baseline-shift="-0.9">=</tspan> 45</text>
<line x1="55.8" y1="198.2" x2="94.8" y2="198.2" stroke="#3f3f3f" stroke-width="1.0"/>
<line x1="94.8" y1="198.2" x2="94.8" y2="213.6" stroke="#3f3f3f" stroke-width="1.0"/>
<text x="55.8" y="195.1" font-size="8.2" fill="#111" font-weight="bold" textLength="30.4" lengthAdjust="spacingAndGlyphs" stroke="#000" stroke-width="0.25">p &lt; 0.001</text>
<text transform="translate(8.4,238.75) rotate(-90)" x="0" y="0" font-size="9" font-weight="bold" fill="#000" text-anchor="middle" textLength="67.1" lengthAdjust="spacingAndGlyphs">CXCL2 pg/2 discs</text>
</g>
<g id="p7">
<line x1="174.8" y1="189.4" x2="174.8" y2="292.1" stroke="#4a4a4a" stroke-width="1.0"/>
<line x1="174.8" y1="292.1" x2="268.2" y2="292.1" stroke="#4a4a4a" stroke-width="1.0"/>
<text x="169.95" y="295.5" font-size="7.5" fill="#3a3a3a" text-anchor="end" textLength="3.38" lengthAdjust="spacingAndGlyphs" stroke="#3a3a3a" stroke-width="0.18">0</text>
<text x="169.95" y="285.23" font-size="7.5" fill="#3a3a3a" text-anchor="end" textLength="20.28" lengthAdjust="spacingAndGlyphs" stroke="#3a3a3a" stroke-width="0.18">200000</text>
<text x="169.95" y="274.96" font-size="7.5" fill="#3a3a3a" text-anchor="end" textLength="20.28" lengthAdjust="spacingAndGlyphs" stroke="#3a3a3a" stroke-width="0.18">400000</text>
<text x="169.95" y="264.69" font-size="7.5" fill="#3a3a3a" text-anchor="end" textLength="20.28" lengthAdjust="spacingAndGlyphs" stroke="#3a3a3a" stroke-width="0.18">600000</text>
<text x="169.95" y="254.42" font-size="7.5" fill="#3a3a3a" text-anchor="end" textLength="20.28" lengthAdjust="spacingAndGlyphs" stroke="#3a3a3a" stroke-width="0.18">800000</text>
<text x="169.95" y="244.15" font-size="7.5" fill="#3a3a3a" text-anchor="end" textLength="23.66" lengthAdjust="spacingAndGlyphs" stroke="#3a3a3a" stroke-width="0.18">1000000</text>
<text x="169.95" y="233.88" font-size="7.5" fill="#3a3a3a" text-anchor="end" textLength="23.66" lengthAdjust="spacingAndGlyphs" stroke="#3a3a3a" stroke-width="0.18">1200000</text>
<text x="169.95" y="223.61" font-size="7.5" fill="#3a3a3a" text-anchor="end" textLength="23.66" lengthAdjust="spacingAndGlyphs" stroke="#3a3a3a" stroke-width="0.18">1400000</text>
<text x="169.95" y="213.34" font-size="7.5" fill="#3a3a3a" text-anchor="end" textLength="23.66" lengthAdjust="spacingAndGlyphs" stroke="#3a3a3a" stroke-width="0.18">1600000</text>
<text x="169.95" y="203.07" font-size="7.5" fill="#3a3a3a" text-anchor="end" textLength="23.66" lengthAdjust="spacingAndGlyphs" stroke="#3a3a3a" stroke-width="0.18">1800000</text>
<text x="169.95" y="192.8" font-size="7.5" fill="#3a3a3a" text-anchor="end" textLength="23.66" lengthAdjust="spacingAndGlyphs" stroke="#3a3a3a" stroke-width="0.18">2000000</text>
<line x1="189.8" y1="280" x2="189.8" y2="286.5" stroke="#3f3f3f" stroke-width="1.0"/>
<line x1="187.2" y1="280" x2="192.4" y2="280" stroke="#3f3f3f" stroke-width="1.0"/>
<line x1="189.8" y1="291.6" x2="189.8" y2="292.1" stroke="#3f3f3f" stroke-width="1.0"/>
<rect x="182" y="286.5" width="15.9" height="5.1" fill="none" stroke="#3f3f3f" stroke-width="1"/>
<line x1="182" y1="289" x2="197.9" y2="289" stroke="#3f3f3f" stroke-width="1.0"/>
<line x1="187.4" y1="281.4" x2="192.2" y2="286.2" stroke="#3f3f3f" stroke-width="1.1"/>
<line x1="187.4" y1="286.2" x2="192.2" y2="281.4" stroke="#3f3f3f" stroke-width="1.1"/>
<circle cx="189.8" cy="221.1" r="1.25" fill="none" stroke="#3f3f3f" stroke-width="0.8"/>
<circle cx="189.8" cy="230.4" r="1.25" fill="none" stroke="#3f3f3f" stroke-width="0.8"/>
<circle cx="189.8" cy="242.3" r="1.25" fill="none" stroke="#3f3f3f" stroke-width="0.8"/>
<circle cx="189.8" cy="249.3" r="1.25" fill="none" stroke="#3f3f3f" stroke-width="0.8"/>
<circle cx="189.8" cy="252.6" r="1.25" fill="none" stroke="#3f3f3f" stroke-width="0.8"/>
<circle cx="189.8" cy="256.1" r="1.25" fill="none" stroke="#3f3f3f" stroke-width="0.8"/>
<line x1="221" y1="279.5" x2="221" y2="286.3" stroke="#3f3f3f" stroke-width="1.0"/>
<line x1="218.4" y1="279.5" x2="223.6" y2="279.5" stroke="#3f3f3f" stroke-width="1.0"/>
<line x1="221" y1="291.6" x2="221" y2="292.1" stroke="#3f3f3f" stroke-width="1.0"/>
<rect x="213.7" y="286.3" width="16.1" height="5.3" fill="none" stroke="#3f3f3f" stroke-width="1"/>
<line x1="213.7" y1="289.5" x2="229.8" y2="289.5" stroke="#3f3f3f" stroke-width="1.0"/>
<line x1="218.6" y1="282.9" x2="223.4" y2="287.7" stroke="#3f3f3f" stroke-width="1.1"/>
<line x1="218.6" y1="287.7" x2="223.4" y2="282.9" stroke="#3f3f3f" stroke-width="1.1"/>
<circle cx="221" cy="248.6" r="1.25" fill="none" stroke="#3f3f3f" stroke-width="0.8"/>
<circle cx="221" cy="258.1" r="1.25" fill="none" stroke="#3f3f3f" stroke-width="0.8"/>
<circle cx="221" cy="264.9" r="1.25" fill="none" stroke="#3f3f3f" stroke-width="0.8"/>
<line x1="252.5" y1="282" x2="252.5" y2="286.3" stroke="#3f3f3f" stroke-width="1.0"/>
<line x1="249.9" y1="282" x2="255.1" y2="282" stroke="#3f3f3f" stroke-width="1.0"/>
<line x1="252.5" y1="291.6" x2="252.5" y2="292.1" stroke="#3f3f3f" stroke-width="1.0"/>
<rect x="244.4" y="286.3" width="16.4" height="5.3" fill="none" stroke="#3f3f3f" stroke-width="1"/>
<line x1="244.4" y1="289.5" x2="260.8" y2="289.5" stroke="#3f3f3f" stroke-width="1.0"/>
<line x1="250.1" y1="280.9" x2="254.9" y2="285.7" stroke="#3f3f3f" stroke-width="1.1"/>
<line x1="250.1" y1="285.7" x2="254.9" y2="280.9" stroke="#3f3f3f" stroke-width="1.1"/>
<circle cx="252.5" cy="203.5" r="1.25" fill="none" stroke="#3f3f3f" stroke-width="0.8"/>
<circle cx="252.5" cy="241.8" r="1.25" fill="none" stroke="#3f3f3f" stroke-width="0.8"/>
<circle cx="252.5" cy="244.2" r="1.25" fill="none" stroke="#3f3f3f" stroke-width="0.8"/>
<circle cx="252.5" cy="254.3" r="1.25" fill="none" stroke="#3f3f3f" stroke-width="0.8"/>
<circle cx="252.5" cy="263.9" r="1.25" fill="none" stroke="#3f3f3f" stroke-width="0.8"/>
<circle cx="252.5" cy="276.2" r="1.25" fill="none" stroke="#3f3f3f" stroke-width="0.8"/>
<text x="184" y="305.2" font-size="8.8" fill="#383838" textLength="12.3" lengthAdjust="spacingAndGlyphs" stroke="#383838" stroke-width="0.15">0M</text>
<text x="215.9" y="305.2" font-size="8.8" fill="#383838" textLength="11.9" lengthAdjust="spacingAndGlyphs" stroke="#383838" stroke-width="0.15">2M</text>
<text x="247.1" y="305.2" font-size="8.8" fill="#383838" textLength="11.9" lengthAdjust="spacingAndGlyphs" stroke="#383838" stroke-width="0.15">6M</text>
<text x="181.9" y="314.3" font-size="9" fill="#383838" textLength="21.4" lengthAdjust="spacingAndGlyphs" stroke="#383838" stroke-width="0.12">n <tspan font-size="10.5" baseline-shift="-0.9">=</tspan> 47</text>
<text x="212.6" y="314.3" font-size="9" fill="#383838" textLength="21.4" lengthAdjust="spacingAndGlyphs" stroke="#383838" stroke-width="0.12">n <tspan font-size="10.5" baseline-shift="-0.9">=</tspan> 48</text>
<text x="243.2" y="314.3" font-size="9" fill="#383838" textLength="21.4" lengthAdjust="spacingAndGlyphs" stroke="#383838" stroke-width="0.12">n <tspan font-size="10.5" baseline-shift="-0.9">=</tspan> 45</text>
<line x1="189.6" y1="204.5" x2="223.8" y2="204.5" stroke="#3f3f3f" stroke-width="1.0"/>
<line x1="223.8" y1="204.5" x2="223.8" y2="219.8" stroke="#3f3f3f" stroke-width="1.0"/>
<text x="194.9" y="202.3" font-size="8.2" fill="#111" font-weight="bold" textLength="30.6" lengthAdjust="spacingAndGlyphs" stroke="#000" stroke-width="0.25">p <tspan font-size="9.5" baseline-shift="-0.5">=</tspan> 0.009</text>
<text transform="translate(140.8,240.45) rotate(-90)" x="0" y="0" font-size="8.5" font-weight="bold" fill="#000" text-anchor="middle" textLength="53.7" lengthAdjust="spacingAndGlyphs">MIF pg/2 discs</text>
</g>
<g id="p8">
<line x1="299" y1="185.9" x2="299" y2="288.3" stroke="#4a4a4a" stroke-width="1.0"/>
<line x1="299" y1="288.3" x2="403.6" y2="288.3" stroke="#4a4a4a" stroke-width="1.0"/>
<text x="294.65" y="291.7" font-size="7.5" fill="#3a3a3a" text-anchor="end" textLength="3.05" lengthAdjust="spacingAndGlyphs" stroke="#3a3a3a" stroke-width="0.18">0</text>
<text x="294.65" y="278.9" font-size="7.5" fill="#3a3a3a" text-anchor="end" textLength="6.1" lengthAdjust="spacingAndGlyphs" stroke="#3a3a3a" stroke-width="0.18">10</text>
<text x="294.65" y="266.1" font-size="7.5" fill="#3a3a3a" text-anchor="end" textLength="6.1" lengthAdjust="spacingAndGlyphs" stroke="#3a3a3a" stroke-width="0.18">20</text>
<text x="294.65" y="253.3" font-size="7.5" fill="#3a3a3a" text-anchor="end" textLength="6.1" lengthAdjust="spacingAndGlyphs" stroke="#3a3a3a" stroke-width="0.18">30</text>
<text x="294.65" y="240.5" font-size="7.5" fill="#3a3a3a" text-anchor="end" textLength="6.1" lengthAdjust="spacingAndGlyphs" stroke="#3a3a3a" stroke-width="0.18">40</text>
<text x="294.65" y="227.7" font-size="7.5" fill="#3a3a3a" text-anchor="end" textLength="6.1" lengthAdjust="spacingAndGlyphs" stroke="#3a3a3a" stroke-width="0.18">50</text>
<text x="294.65" y="214.9" font-size="7.5" fill="#3a3a3a" text-anchor="end" textLength="6.1" lengthAdjust="spacingAndGlyphs" stroke="#3a3a3a" stroke-width="0.18">60</text>
<text x="294.65" y="202.1" font-size="7.5" fill="#3a3a3a" text-anchor="end" textLength="6.1" lengthAdjust="spacingAndGlyphs" stroke="#3a3a3a" stroke-width="0.18">70</text>
<text x="294.65" y="189.3" font-size="7.5" fill="#3a3a3a" text-anchor="end" textLength="6.1" lengthAdjust="spacingAndGlyphs" stroke="#3a3a3a" stroke-width="0.18">80</text>
<line x1="316.6" y1="214.6" x2="316.6" y2="249.3" stroke="#3f3f3f" stroke-width="1.0"/>
<line x1="314" y1="214.6" x2="319.2" y2="214.6" stroke="#3f3f3f" stroke-width="1.0"/>
<line x1="316.6" y1="280.7" x2="316.6" y2="288.3" stroke="#3f3f3f" stroke-width="1.0"/>
<rect x="307.3" y="249.3" width="18.6" height="31.4" fill="none" stroke="#3f3f3f" stroke-width="1"/>
<line x1="307.3" y1="267.4" x2="325.9" y2="267.4" stroke="#3f3f3f" stroke-width="1.0"/>
<line x1="314.2" y1="262" x2="319" y2="266.8" stroke="#3f3f3f" stroke-width="1.1"/>
<line x1="314.2" y1="266.8" x2="319" y2="262" stroke="#3f3f3f" stroke-width="1.1"/>
<circle cx="316.6" cy="197.7" r="1.25" fill="none" stroke="#3f3f3f" stroke-width="0.8"/>
<line x1="351.3" y1="229.1" x2="351.3" y2="256.4" stroke="#3f3f3f" stroke-width="1.0"/>
<line x1="348.7" y1="229.1" x2="353.9" y2="229.1" stroke="#3f3f3f" stroke-width="1.0"/>
<line x1="351.3" y1="284.5" x2="351.3" y2="288.3" stroke="#3f3f3f" stroke-width="1.0"/>
<rect x="342.5" y="256.4" width="17.3" height="28.1" fill="none" stroke="#3f3f3f" stroke-width="1"/>
<line x1="342.5" y1="278.2" x2="359.8" y2="278.2" stroke="#3f3f3f" stroke-width="1.0"/>
<line x1="348.9" y1="267" x2="353.7" y2="271.8" stroke="#3f3f3f" stroke-width="1.1"/>
<line x1="348.9" y1="271.8" x2="353.7" y2="267" stroke="#3f3f3f" stroke-width="1.1"/>
<line x1="386.2" y1="209" x2="386.2" y2="253.1" stroke="#3f3f3f" stroke-width="1.0"/>
<line x1="383.6" y1="209" x2="388.8" y2="209" stroke="#3f3f3f" stroke-width="1.0"/>
<line x1="386.2" y1="283.3" x2="386.2" y2="288.3" stroke="#3f3f3f" stroke-width="1.0"/>
<rect x="376.9" y="253.1" width="17.6" height="30.2" fill="none" stroke="#3f3f3f" stroke-width="1"/>
<line x1="376.9" y1="271.2" x2="394.5" y2="271.2" stroke="#3f3f3f" stroke-width="1.0"/>
<line x1="383.8" y1="263.8" x2="388.6" y2="268.6" stroke="#3f3f3f" stroke-width="1.1"/>
<line x1="383.8" y1="268.6" x2="388.6" y2="263.8" stroke="#3f3f3f" stroke-width="1.1"/>
<text x="310.8" y="301.1" font-size="9" fill="#383838" textLength="12.2" lengthAdjust="spacingAndGlyphs" stroke="#383838" stroke-width="0.15">0M</text>
<text x="345.8" y="301.1" font-size="9" fill="#383838" textLength="11.9" lengthAdjust="spacingAndGlyphs" stroke="#383838" stroke-width="0.15">2M</text>
<text x="380.5" y="301.1" font-size="9" fill="#383838" textLength="11.7" lengthAdjust="spacingAndGlyphs" stroke="#383838" stroke-width="0.15">6M</text>
<text x="302.9" y="313.9" font-size="9" fill="#383838" textLength="21.5" lengthAdjust="spacingAndGlyphs" stroke="#383838" stroke-width="0.12">n <tspan font-size="10.5" baseline-shift="-0.9">=</tspan> 58</text>
<text x="337.4" y="313.9" font-size="9" fill="#383838" textLength="21.5" lengthAdjust="spacingAndGlyphs" stroke="#383838" stroke-width="0.12">n <tspan font-size="10.5" baseline-shift="-0.9">=</tspan> 48</text>
<text x="373.8" y="313" font-size="9" fill="#383838" textLength="21.4" lengthAdjust="spacingAndGlyphs" stroke="#383838" stroke-width="0.12">n <tspan font-size="10.5" baseline-shift="-0.9">=</tspan> 45</text>
<line x1="316.6" y1="202" x2="351.3" y2="202" stroke="#3f3f3f" stroke-width="1.0"/>
<line x1="351.3" y1="202" x2="351.3" y2="219.6" stroke="#3f3f3f" stroke-width="1.0"/>
<text x="321.6" y="200" font-size="8.2" fill="#111" font-weight="bold" textLength="30.2" lengthAdjust="spacingAndGlyphs" stroke="#000" stroke-width="0.25">p <tspan font-size="9.5" baseline-shift="-0.5">=</tspan> 0.010</text>
<text transform="translate(281.5,236.8) rotate(-90)" x="0" y="0" font-size="9" font-weight="bold" fill="#000" text-anchor="middle" textLength="59" lengthAdjust="spacingAndGlyphs">CCL8 pg/2 discs</text>
</g>
<g id="p9">
<line x1="434.5" y1="186.4" x2="434.5" y2="287.4" stroke="#4a4a4a" stroke-width="1.0"/>
<line x1="434.5" y1="287.4" x2="543" y2="287.4" stroke="#4a4a4a" stroke-width="1.0"/>
<text x="430.35" y="290.8" font-size="7.5" fill="#3a3a3a" text-anchor="end" textLength="3.48" lengthAdjust="spacingAndGlyphs" stroke="#3a3a3a" stroke-width="0.18">0</text>
<text x="430.35" y="279.58" font-size="7.5" fill="#3a3a3a" text-anchor="end" textLength="10.44" lengthAdjust="spacingAndGlyphs" stroke="#3a3a3a" stroke-width="0.18">200</text>
<text x="430.35" y="268.36" font-size="7.5" fill="#3a3a3a" text-anchor="end" textLength="10.44" lengthAdjust="spacingAndGlyphs" stroke="#3a3a3a" stroke-width="0.18">400</text>
<text x="430.35" y="257.13" font-size="7.5" fill="#3a3a3a" text-anchor="end" textLength="10.44" lengthAdjust="spacingAndGlyphs" stroke="#3a3a3a" stroke-width="0.18">600</text>
<text x="430.35" y="245.91" font-size="7.5" fill="#3a3a3a" text-anchor="end" textLength="10.44" lengthAdjust="spacingAndGlyphs" stroke="#3a3a3a" stroke-width="0.18">800</text>
<text x="430.35" y="234.69" font-size="7.5" fill="#3a3a3a" text-anchor="end" textLength="13.92" lengthAdjust="spacingAndGlyphs" stroke="#3a3a3a" stroke-width="0.18">1000</text>
<text x="430.35" y="223.47" font-size="7.5" fill="#3a3a3a" text-anchor="end" textLength="13.92" lengthAdjust="spacingAndGlyphs" stroke="#3a3a3a" stroke-width="0.18">1200</text>
<text x="430.35" y="212.24" font-size="7.5" fill="#3a3a3a" text-anchor="end" textLength="13.92" lengthAdjust="spacingAndGlyphs" stroke="#3a3a3a" stroke-width="0.18">1400</text>
<text x="430.35" y="201.02" font-size="7.5" fill="#3a3a3a" text-anchor="end" textLength="13.92" lengthAdjust="spacingAndGlyphs" stroke="#3a3a3a" stroke-width="0.18">1600</text>
<text x="430.35" y="189.8" font-size="7.5" fill="#3a3a3a" text-anchor="end" textLength="13.92" lengthAdjust="spacingAndGlyphs" stroke="#3a3a3a" stroke-width="0.18">1800</text>
<line x1="452.4" y1="237.3" x2="452.4" y2="262.4" stroke="#3f3f3f" stroke-width="1.0"/>
<line x1="449.8" y1="237.3" x2="455" y2="237.3" stroke="#3f3f3f" stroke-width="1.0"/>
<line x1="452.4" y1="278.7" x2="452.4" y2="287.4" stroke="#3f3f3f" stroke-width="1.0"/>
<rect x="442.8" y="262.4" width="18.9" height="16.3" fill="none" stroke="#3f3f3f" stroke-width="1"/>
<line x1="442.8" y1="272" x2="461.7" y2="272" stroke="#3f3f3f" stroke-width="1.0"/>
<line x1="450" y1="262.8" x2="454.8" y2="267.6" stroke="#3f3f3f" stroke-width="1.1"/>
<line x1="450" y1="267.6" x2="454.8" y2="262.8" stroke="#3f3f3f" stroke-width="1.1"/>
<circle cx="452.4" cy="192.2" r="1.25" fill="none" stroke="#3f3f3f" stroke-width="0.8"/>
<circle cx="452.4" cy="200.2" r="1.25" fill="none" stroke="#3f3f3f" stroke-width="0.8"/>
<circle cx="452.4" cy="209" r="1.25" fill="none" stroke="#3f3f3f" stroke-width="0.8"/>
<circle cx="452.4" cy="216.6" r="1.25" fill="none" stroke="#3f3f3f" stroke-width="0.8"/>
<line x1="488.6" y1="261.4" x2="488.6" y2="269.4" stroke="#3f3f3f" stroke-width="1.0"/>
<line x1="486" y1="261.4" x2="491.2" y2="261.4" stroke="#3f3f3f" stroke-width="1.0"/>
<line x1="488.6" y1="280" x2="488.6" y2="287.4" stroke="#3f3f3f" stroke-width="1.0"/>
<rect x="479.8" y="269.4" width="17.8" height="10.6" fill="none" stroke="#3f3f3f" stroke-width="1"/>
<line x1="479.8" y1="275.2" x2="497.6" y2="275.2" stroke="#3f3f3f" stroke-width="1.0"/>
<line x1="486.2" y1="270.3" x2="491" y2="275.1" stroke="#3f3f3f" stroke-width="1.1"/>
<line x1="486.2" y1="275.1" x2="491" y2="270.3" stroke="#3f3f3f" stroke-width="1.1"/>
<circle cx="488.6" cy="211.5" r="1.25" fill="none" stroke="#3f3f3f" stroke-width="0.8"/>
<circle cx="488.6" cy="237.4" r="1.25" fill="none" stroke="#3f3f3f" stroke-width="0.8"/>
<circle cx="488.6" cy="250" r="1.25" fill="none" stroke="#3f3f3f" stroke-width="0.8"/>
<circle cx="488.6" cy="252.3" r="1.25" fill="none" stroke="#3f3f3f" stroke-width="0.8"/>
<line x1="525.3" y1="240.5" x2="525.3" y2="262.4" stroke="#3f3f3f" stroke-width="1.0"/>
<line x1="522.7" y1="240.5" x2="527.9" y2="240.5" stroke="#3f3f3f" stroke-width="1.0"/>
<line x1="525.3" y1="278.7" x2="525.3" y2="287.4" stroke="#3f3f3f" stroke-width="1.0"/>
<rect x="515.7" y="262.4" width="18.4" height="16.3" fill="none" stroke="#3f3f3f" stroke-width="1"/>
<line x1="515.7" y1="272" x2="534.1" y2="272" stroke="#3f3f3f" stroke-width="1.0"/>
<line x1="522.9" y1="265.3" x2="527.7" y2="270.1" stroke="#3f3f3f" stroke-width="1.1"/>
<line x1="522.9" y1="270.1" x2="527.7" y2="265.3" stroke="#3f3f3f" stroke-width="1.1"/>
<circle cx="525.3" cy="221.6" r="1.25" fill="none" stroke="#3f3f3f" stroke-width="0.8"/>
<circle cx="525.3" cy="227.4" r="1.25" fill="none" stroke="#3f3f3f" stroke-width="0.8"/>
<circle cx="525.3" cy="234.7" r="1.25" fill="none" stroke="#3f3f3f" stroke-width="0.8"/>
<text x="447" y="299.9" font-size="9.2" fill="#383838" textLength="11.9" lengthAdjust="spacingAndGlyphs" stroke="#383838" stroke-width="0.15">0M</text>
<text x="483.4" y="299.9" font-size="9.2" fill="#383838" textLength="11.8" lengthAdjust="spacingAndGlyphs" stroke="#383838" stroke-width="0.15">2M</text>
<text x="519.3" y="299.9" font-size="9.2" fill="#383838" textLength="12" lengthAdjust="spacingAndGlyphs" stroke="#383838" stroke-width="0.15">6M</text>
<text x="443.7" y="308.6" font-size="9" fill="#383838" textLength="21.3" lengthAdjust="spacingAndGlyphs" stroke="#383838" stroke-width="0.12">n <tspan font-size="10.5" baseline-shift="-0.9">=</tspan> 58</text>
<text x="479" y="308.6" font-size="9" fill="#383838" textLength="21.4" lengthAdjust="spacingAndGlyphs" stroke="#383838" stroke-width="0.12">n <tspan font-size="10.5" baseline-shift="-0.9">=</tspan> 48</text>
<text x="515" y="308.6" font-size="9" fill="#383838" textLength="21.3" lengthAdjust="spacingAndGlyphs" stroke="#383838" stroke-width="0.12">n <tspan font-size="10.5" baseline-shift="-0.9">=</tspan> 45</text>
<line x1="452.4" y1="189.4" x2="489.3" y2="189.4" stroke="#3f3f3f" stroke-width="1.0"/>
<line x1="489.3" y1="189.4" x2="489.3" y2="202.2" stroke="#3f3f3f" stroke-width="1.0"/>
<text x="457.9" y="186.3" font-size="8.2" fill="#111" font-weight="bold" textLength="29.7" lengthAdjust="spacingAndGlyphs" stroke="#000" stroke-width="0.25">p <tspan font-size="9.5" baseline-shift="-0.5">=</tspan> 0.006</text>
<text transform="translate(410.3,236.75) rotate(-90)" x="0" y="0" font-size="9" font-weight="bold" fill="#000" text-anchor="middle" textLength="63.5" lengthAdjust="spacingAndGlyphs">CCL15 pg/2 discs</text>
</g>
<g id="p10">
<line x1="570.6" y1="185.9" x2="570.6" y2="286.9" stroke="#4a4a4a" stroke-width="1.0"/>
<line x1="570.6" y1="286.9" x2="679" y2="286.9" stroke="#4a4a4a" stroke-width="1.0"/>
<text x="566.25" y="290.3" font-size="7.5" fill="#3a3a3a" text-anchor="end" textLength="3.2" lengthAdjust="spacingAndGlyphs" stroke="#3a3a3a" stroke-width="0.18">0</text>
<text x="566.25" y="275.87" font-size="7.5" fill="#3a3a3a" text-anchor="end" textLength="6.4" lengthAdjust="spacingAndGlyphs" stroke="#3a3a3a" stroke-width="0.18">10</text>
<text x="566.25" y="261.44" font-size="7.5" fill="#3a3a3a" text-anchor="end" textLength="6.4" lengthAdjust="spacingAndGlyphs" stroke="#3a3a3a" stroke-width="0.18">20</text>
<text x="566.25" y="247.01" font-size="7.5" fill="#3a3a3a" text-anchor="end" textLength="6.4" lengthAdjust="spacingAndGlyphs" stroke="#3a3a3a" stroke-width="0.18">30</text>
<text x="566.25" y="232.59" font-size="7.5" fill="#3a3a3a" text-anchor="end" textLength="6.4" lengthAdjust="spacingAndGlyphs" stroke="#3a3a3a" stroke-width="0.18">40</text>
<text x="566.25" y="218.16" font-size="7.5" fill="#3a3a3a" text-anchor="end" textLength="6.4" lengthAdjust="spacingAndGlyphs" stroke="#3a3a3a" stroke-width="0.18">50</text>
<text x="566.25" y="203.73" font-size="7.5" fill="#3a3a3a" text-anchor="end" textLength="6.4" lengthAdjust="spacingAndGlyphs" stroke="#3a3a3a" stroke-width="0.18">60</text>
<text x="566.25" y="189.3" font-size="7.5" fill="#3a3a3a" text-anchor="end" textLength="6.4" lengthAdjust="spacingAndGlyphs" stroke="#3a3a3a" stroke-width="0.18">70</text>
<line x1="588.7" y1="257.4" x2="588.7" y2="273.2" stroke="#3f3f3f" stroke-width="1.0"/>
<line x1="586.1" y1="257.4" x2="591.3" y2="257.4" stroke="#3f3f3f" stroke-width="1.0"/>
<line x1="588.7" y1="286.3" x2="588.7" y2="286.9" stroke="#3f3f3f" stroke-width="1.0"/>
<rect x="579.4" y="273.2" width="18.3" height="13.1" fill="none" stroke="#3f3f3f" stroke-width="1"/>
<line x1="579.4" y1="282.5" x2="597.7" y2="282.5" stroke="#3f3f3f" stroke-width="1.0"/>
<line x1="586.3" y1="273.8" x2="591.1" y2="278.6" stroke="#3f3f3f" stroke-width="1.1"/>
<line x1="586.3" y1="278.6" x2="591.1" y2="273.8" stroke="#3f3f3f" stroke-width="1.1"/>
<circle cx="588.7" cy="194" r="1.25" fill="none" stroke="#3f3f3f" stroke-width="0.8"/>
<circle cx="588.7" cy="247.6" r="1.25" fill="none" stroke="#3f3f3f" stroke-width="0.8"/>
<circle cx="588.7" cy="254.8" r="1.25" fill="none" stroke="#3f3f3f" stroke-width="0.8"/>
<line x1="624.6" y1="268.7" x2="624.6" y2="277.5" stroke="#3f3f3f" stroke-width="1.0"/>
<line x1="622" y1="268.7" x2="627.2" y2="268.7" stroke="#3f3f3f" stroke-width="1.0"/>
<line x1="624.6" y1="286.3" x2="624.6" y2="286.9" stroke="#3f3f3f" stroke-width="1.0"/>
<rect x="615.8" y="277.5" width="17.6" height="8.8" fill="none" stroke="#3f3f3f" stroke-width="1"/>
<line x1="615.8" y1="285" x2="633.4" y2="285" stroke="#3f3f3f" stroke-width="1.0"/>
<line x1="622.2" y1="279.1" x2="627" y2="283.9" stroke="#3f3f3f" stroke-width="1.1"/>
<line x1="622.2" y1="283.9" x2="627" y2="279.1" stroke="#3f3f3f" stroke-width="1.1"/>
<circle cx="624.6" cy="245" r="1.25" fill="none" stroke="#3f3f3f" stroke-width="0.8"/>
<line x1="661.1" y1="263.1" x2="661.1" y2="276.5" stroke="#3f3f3f" stroke-width="1.0"/>
<line x1="658.5" y1="263.1" x2="663.7" y2="263.1" stroke="#3f3f3f" stroke-width="1.0"/>
<line x1="661.1" y1="286.3" x2="661.1" y2="286.9" stroke="#3f3f3f" stroke-width="1.0"/>
<rect x="651.8" y="276.5" width="18.6" height="9.8" fill="none" stroke="#3f3f3f" stroke-width="1"/>
<line x1="651.8" y1="285.8" x2="670.4" y2="285.8" stroke="#3f3f3f" stroke-width="1.0"/>
<line x1="658.7" y1="278.3" x2="663.5" y2="283.1" stroke="#3f3f3f" stroke-width="1.1"/>
<line x1="658.7" y1="283.1" x2="663.5" y2="278.3" stroke="#3f3f3f" stroke-width="1.1"/>
<circle cx="661.1" cy="256.4" r="1.25" fill="none" stroke="#3f3f3f" stroke-width="0.8"/>
<text x="583" y="299.5" font-size="9.2" fill="#383838" textLength="12.1" lengthAdjust="spacingAndGlyphs" stroke="#383838" stroke-width="0.15">0M</text>
<text x="619.3" y="299.5" font-size="9.2" fill="#383838" textLength="11.9" lengthAdjust="spacingAndGlyphs" stroke="#383838" stroke-width="0.15">2M</text>
<text x="655.2" y="299.5" font-size="9.2" fill="#383838" textLength="12.3" lengthAdjust="spacingAndGlyphs" stroke="#383838" stroke-width="0.15">6M</text>
<text x="579" y="307.4" font-size="9" fill="#383838" textLength="21.9" lengthAdjust="spacingAndGlyphs" stroke="#383838" stroke-width="0.12">n <tspan font-size="10.5" baseline-shift="-0.9">=</tspan> 39</text>
<text x="616.2" y="307.4" font-size="9" fill="#383838" textLength="22" lengthAdjust="spacingAndGlyphs" stroke="#383838" stroke-width="0.12">n <tspan font-size="10.5" baseline-shift="-0.9">=</tspan> 30</text>
<text x="654.3" y="307.4" font-size="9" fill="#383838" textLength="21.4" lengthAdjust="spacingAndGlyphs" stroke="#383838" stroke-width="0.12">n <tspan font-size="10.5" baseline-shift="-0.9">=</tspan> 33</text>
<line x1="599.5" y1="189.7" x2="636.5" y2="189.7" stroke="#3f3f3f" stroke-width="1.0"/>
<line x1="636.5" y1="189.7" x2="636.5" y2="206" stroke="#3f3f3f" stroke-width="1.0"/>
<text x="601.5" y="188.8" font-size="8.2" fill="#111" font-weight="bold" textLength="30.7" lengthAdjust="spacingAndGlyphs" stroke="#000" stroke-width="0.25">p <tspan font-size="9.5" baseline-shift="-0.5">=</tspan> 0.002</text>
<text transform="translate(552.7,235.9) rotate(-90)" x="0" y="0" font-size="9" font-weight="bold" fill="#000" text-anchor="middle" textLength="64.6" lengthAdjust="spacingAndGlyphs">CCL20 pg/2 discs</text>
</g>
<circle cx="404.3" cy="3.8" r="0.5" fill="#888"/>
<line x1="540.3" y1="122.4" x2="542.8" y2="122.4" stroke="#555" stroke-width="0.9"/>
<circle cx="2.6" cy="258.7" r="0.5" fill="#888"/>
</svg>
</body></html>
